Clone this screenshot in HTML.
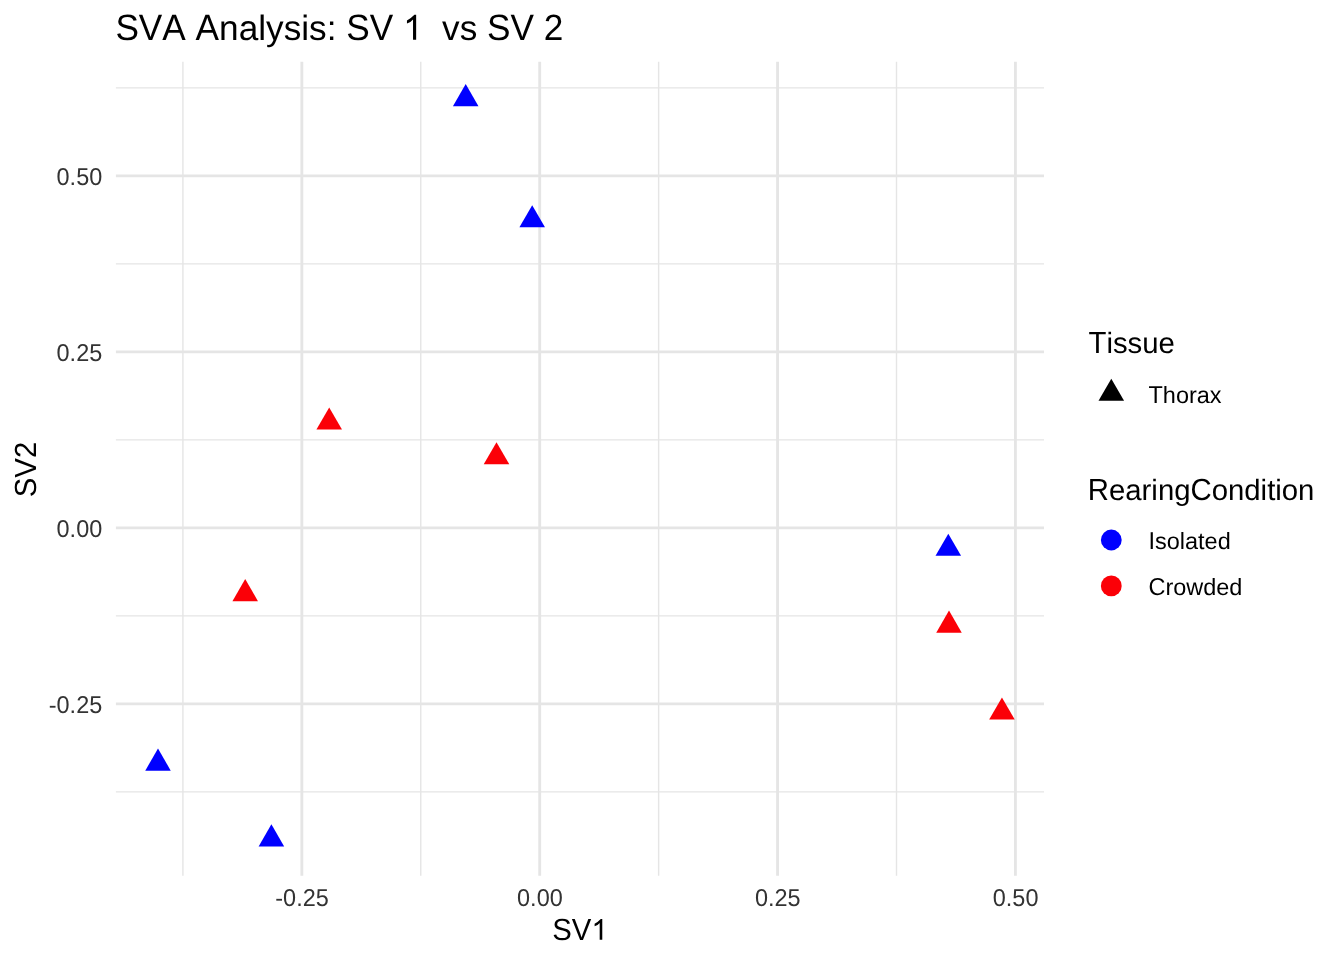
<!DOCTYPE html>
<html><head><meta charset="utf-8"><title>SVA Analysis</title>
<style>html,body{margin:0;padding:0;background:#fff;}body{width:1344px;height:960px;overflow:hidden;font-family:"Liberation Sans",sans-serif;}</style>
</head><body>
<svg width="1344" height="960" viewBox="0 0 1344 960" style="display:block;font-kerning:none;text-rendering:geometricPrecision;will-change:transform">
<rect width="1344" height="960" fill="#FFFFFF"/>
<g stroke="#E5E5E5" stroke-width="1.42" fill="none">
<line x1="182.90" x2="182.90" y1="61.8" y2="875.85"/>
<line x1="420.77" x2="420.77" y1="61.8" y2="875.85"/>
<line x1="658.63" x2="658.63" y1="61.8" y2="875.85"/>
<line x1="896.50" x2="896.50" y1="61.8" y2="875.85"/>
<line y1="87.89" y2="87.89" x1="115.9" x2="1044.0"/>
<line y1="263.89" y2="263.89" x1="115.9" x2="1044.0"/>
<line y1="439.89" y2="439.89" x1="115.9" x2="1044.0"/>
<line y1="615.89" y2="615.89" x1="115.9" x2="1044.0"/>
<line y1="791.89" y2="791.89" x1="115.9" x2="1044.0"/>
</g>
<g stroke="#E5E5E5" stroke-width="2.85" fill="none">
<line x1="301.84" x2="301.84" y1="61.8" y2="875.85"/>
<line x1="539.70" x2="539.70" y1="61.8" y2="875.85"/>
<line x1="777.57" x2="777.57" y1="61.8" y2="875.85"/>
<line x1="1015.43" x2="1015.43" y1="61.8" y2="875.85"/>
<line y1="175.89" y2="175.89" x1="115.9" x2="1044.0"/>
<line y1="351.89" y2="351.89" x1="115.9" x2="1044.0"/>
<line y1="527.89" y2="527.89" x1="115.9" x2="1044.0"/>
<line y1="703.89" y2="703.89" x1="115.9" x2="1044.0"/>
</g>
<polygon points="465.70,84.06 478.47,106.17 452.93,106.17" fill="#0000FF"/>
<polygon points="532.20,205.26 544.97,227.37 519.43,227.37" fill="#0000FF"/>
<polygon points="329.20,407.46 341.97,429.57 316.43,429.57" fill="#FB0007"/>
<polygon points="496.50,442.26 509.27,464.37 483.73,464.37" fill="#FB0007"/>
<polygon points="245.20,579.06 257.97,601.17 232.43,601.17" fill="#FB0007"/>
<polygon points="158.00,748.56 170.77,770.67 145.23,770.67" fill="#0000FF"/>
<polygon points="271.40,824.36 284.17,846.47 258.63,846.47" fill="#0000FF"/>
<polygon points="948.30,533.66 961.07,555.77 935.53,555.77" fill="#0000FF"/>
<polygon points="949.00,610.56 961.77,632.67 936.23,632.67" fill="#FB0007"/>
<polygon points="1001.95,697.51 1014.72,719.62 989.18,719.62" fill="#FB0007"/>
<text transform="translate(115.40,39.80) scale(1,1.04)" font-family="Liberation Sans, sans-serif" font-size="35.2" fill="#000">SVA</text><text transform="translate(195.61,39.80) scale(1,1.04)" font-family="Liberation Sans, sans-serif" font-size="35.2" fill="#000">A</text><text transform="translate(219.09,39.80)" font-family="Liberation Sans, sans-serif" font-size="35.2" fill="#000">nalysis:</text><text transform="translate(346.25,39.80) scale(1,1.04)" font-family="Liberation Sans, sans-serif" font-size="35.2" fill="#000">SV</text><path d="M416.15,39.80 L416.15,14.74 L414.39,14.74 Q411.29,18.05 406.96,20.51 L406.96,23.61 Q410.90,22.31 413.03,19.49 L413.03,39.80 Z" fill="#000"/><text transform="translate(442.12,39.80)" font-family="Liberation Sans, sans-serif" font-size="35.2" fill="#000">vs</text><text transform="translate(487.10,39.80) scale(1,1.04)" font-family="Liberation Sans, sans-serif" font-size="35.2" fill="#000">SV</text><text transform="translate(543.83,39.80) scale(1,1.04)" font-family="Liberation Sans, sans-serif" font-size="35.2" fill="#000">2</text>
<text transform="translate(56.57,185.29) scale(1,1.04)" font-family="Liberation Sans, sans-serif" font-size="23.47" fill="#333333">0</text><text transform="translate(69.62,185.29)" font-family="Liberation Sans, sans-serif" font-size="23.47" fill="#333333">.</text><text transform="translate(76.14,185.29) scale(1,1.04)" font-family="Liberation Sans, sans-serif" font-size="23.47" fill="#333333">50</text>
<text transform="translate(56.57,361.29) scale(1,1.04)" font-family="Liberation Sans, sans-serif" font-size="23.47" fill="#333333">0</text><text transform="translate(69.62,361.29)" font-family="Liberation Sans, sans-serif" font-size="23.47" fill="#333333">.</text><text transform="translate(76.14,361.29) scale(1,1.04)" font-family="Liberation Sans, sans-serif" font-size="23.47" fill="#333333">25</text>
<text transform="translate(56.57,537.29) scale(1,1.04)" font-family="Liberation Sans, sans-serif" font-size="23.47" fill="#333333">0</text><text transform="translate(69.62,537.29)" font-family="Liberation Sans, sans-serif" font-size="23.47" fill="#333333">.</text><text transform="translate(76.14,537.29) scale(1,1.04)" font-family="Liberation Sans, sans-serif" font-size="23.47" fill="#333333">00</text>
<text transform="translate(48.75,713.29)" font-family="Liberation Sans, sans-serif" font-size="23.47" fill="#333333">-</text><text transform="translate(56.57,713.29) scale(1,1.04)" font-family="Liberation Sans, sans-serif" font-size="23.47" fill="#333333">0</text><text transform="translate(69.62,713.29)" font-family="Liberation Sans, sans-serif" font-size="23.47" fill="#333333">.</text><text transform="translate(76.14,713.29) scale(1,1.04)" font-family="Liberation Sans, sans-serif" font-size="23.47" fill="#333333">25</text>
<text transform="translate(275.29,905.70)" font-family="Liberation Sans, sans-serif" font-size="23.47" fill="#333333">-</text><text transform="translate(283.10,905.70) scale(1,1.04)" font-family="Liberation Sans, sans-serif" font-size="23.47" fill="#333333">0</text><text transform="translate(296.16,905.70)" font-family="Liberation Sans, sans-serif" font-size="23.47" fill="#333333">.</text><text transform="translate(302.68,905.70) scale(1,1.04)" font-family="Liberation Sans, sans-serif" font-size="23.47" fill="#333333">25</text>
<text transform="translate(517.06,905.70) scale(1,1.04)" font-family="Liberation Sans, sans-serif" font-size="23.47" fill="#333333">0</text><text transform="translate(530.11,905.70)" font-family="Liberation Sans, sans-serif" font-size="23.47" fill="#333333">.</text><text transform="translate(536.63,905.70) scale(1,1.04)" font-family="Liberation Sans, sans-serif" font-size="23.47" fill="#333333">00</text>
<text transform="translate(754.93,905.70) scale(1,1.04)" font-family="Liberation Sans, sans-serif" font-size="23.47" fill="#333333">0</text><text transform="translate(767.98,905.70)" font-family="Liberation Sans, sans-serif" font-size="23.47" fill="#333333">.</text><text transform="translate(774.50,905.70) scale(1,1.04)" font-family="Liberation Sans, sans-serif" font-size="23.47" fill="#333333">25</text>
<text transform="translate(992.79,905.70) scale(1,1.04)" font-family="Liberation Sans, sans-serif" font-size="23.47" fill="#333333">0</text><text transform="translate(1005.84,905.70)" font-family="Liberation Sans, sans-serif" font-size="23.47" fill="#333333">.</text><text transform="translate(1012.36,905.70) scale(1,1.04)" font-family="Liberation Sans, sans-serif" font-size="23.47" fill="#333333">50</text>
<text transform="translate(552.18,939.80) scale(1,1.04)" font-family="Liberation Sans, sans-serif" font-size="29.33" fill="#000">SV</text><path d="M602.28,939.80 L602.28,918.92 L600.81,918.92 Q598.23,921.67 594.62,923.73 L594.62,926.31 Q597.91,925.22 599.68,922.88 L599.68,939.80 Z" fill="#000"/>
<g transform="translate(35.6,469.5) rotate(-90)"><text transform="translate(-27.72,0.00) scale(1,1.04)" font-family="Liberation Sans, sans-serif" font-size="29.33" fill="#000">SV2</text></g>
<text transform="translate(1088.50,353.00) scale(1,1.04)" font-family="Liberation Sans, sans-serif" font-size="29.33" fill="#000">T</text><text transform="translate(1106.42,353.00)" font-family="Liberation Sans, sans-serif" font-size="29.33" fill="#000">issue</text>
<polygon points="1111.30,378.76 1124.07,400.87 1098.53,400.87" fill="#000"/>
<text transform="translate(1148.50,403.00) scale(1,1.04)" font-family="Liberation Sans, sans-serif" font-size="23.47" fill="#000">T</text><text transform="translate(1162.84,403.00)" font-family="Liberation Sans, sans-serif" font-size="23.47" fill="#000">horax</text>
<text transform="translate(1087.80,499.50) scale(1,1.04)" font-family="Liberation Sans, sans-serif" font-size="29.33" fill="#000">R</text><text transform="translate(1108.98,499.50)" font-family="Liberation Sans, sans-serif" font-size="29.33" fill="#000">earing</text><text transform="translate(1190.51,499.50) scale(1,1.04)" font-family="Liberation Sans, sans-serif" font-size="29.33" fill="#000">C</text><text transform="translate(1211.69,499.50)" font-family="Liberation Sans, sans-serif" font-size="29.33" fill="#000">ondition</text>
<circle cx="1111.3" cy="540" r="10.4" fill="#0000FF"/>
<text transform="translate(1148.50,549.00) scale(1,1.04)" font-family="Liberation Sans, sans-serif" font-size="23.47" fill="#000">I</text><text transform="translate(1155.02,549.00)" font-family="Liberation Sans, sans-serif" font-size="23.47" fill="#000">solated</text>
<circle cx="1111.3" cy="585.9" r="10.4" fill="#FB0007"/>
<text transform="translate(1148.50,595.00) scale(1,1.04)" font-family="Liberation Sans, sans-serif" font-size="23.47" fill="#000">C</text><text transform="translate(1165.45,595.00)" font-family="Liberation Sans, sans-serif" font-size="23.47" fill="#000">rowded</text>
</svg>
</body></html>
